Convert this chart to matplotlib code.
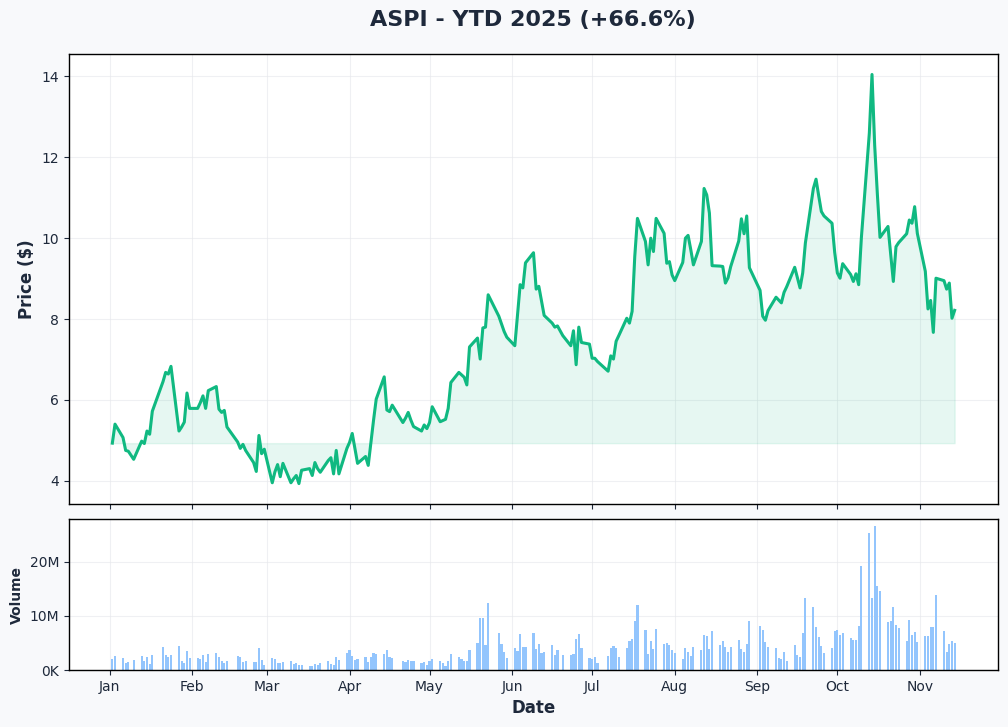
import matplotlib
matplotlib.use("Agg")
import matplotlib.pyplot as plt
import matplotlib.dates as mdates
from matplotlib.ticker import FuncFormatter, MultipleLocator
import numpy as np
import pandas as pd

# trading days (NYSE calendar 2025)
holidays = ["2025-01-01", "2025-01-09", "2025-01-20", "2025-02-17", "2025-04-18",
            "2025-05-26", "2025-06-19", "2025-07-04", "2025-09-01"]
dates = pd.bdate_range("2025-01-02", "2025-11-14", freq="C", holidays=holidays)

# closing price ($), one list per month
price_jan = [4.93, 5.40, 5.07, 4.75, 4.73, 4.53, 4.98, 4.92, 5.23, 5.15, 5.72, 6.45, 6.68, 6.64, 6.83,
             5.23, 5.33, 5.45, 6.17, 5.79]
price_feb = [5.79, 5.93, 6.10, 5.79, 6.23, 6.33, 5.77, 5.69, 5.74, 5.33, 4.96, 4.80, 4.90, 4.75, 4.45,
             4.23, 5.12, 4.67, 4.78]
price_mar = [3.95, 4.22, 4.40, 4.10, 4.43, 3.95, 4.05, 4.13, 3.93, 4.26, 4.30, 4.13, 4.45, 4.30, 4.21,
             4.50, 4.57, 4.17, 4.75, 4.17, 4.80]
price_apr = [4.95, 5.17, 4.80, 4.43, 4.60, 4.38, 4.95, 5.50, 6.02, 6.57, 5.75, 5.71, 5.87, 5.44, 5.55,
             5.69, 5.50, 5.34, 5.23, 5.38, 5.29]
price_may = [5.44, 5.83, 5.46, 5.49, 5.52, 5.79, 6.43, 6.68, 6.62, 6.56, 6.37, 7.31, 7.53, 7.01, 7.78,
             7.80, 8.60, 8.07, 7.88, 7.69, 7.55]
price_jun = [7.34, 8.10, 8.85, 8.77, 9.39, 9.64, 8.74, 8.81, 8.45, 8.09, 7.90, 7.80, 7.83, 7.59, 7.34,
             7.71, 6.87, 7.80, 7.42, 7.38]
price_jul = [7.03, 7.03, 6.95, 6.71, 7.09, 7.01, 7.45, 7.59, 8.02, 7.90, 8.19, 9.55, 10.49, 9.92, 9.34,
             10.00, 9.67, 10.49, 10.12, 9.38, 9.42, 9.09]
price_aug = [8.95, 9.40, 10.00, 10.07, 9.72, 9.34, 9.92, 11.23, 11.07, 10.62, 9.32, 9.31, 9.30, 8.89,
             9.02, 9.30, 9.93, 10.48, 10.11, 10.55, 9.27]
price_sep = [8.71, 8.07, 7.97, 8.21, 8.54, 8.47, 8.40, 8.66, 8.80, 9.28, 9.02, 8.77, 9.14, 9.88, 11.23,
             11.46, 11.05, 10.66, 10.55, 10.37, 9.65]
price_oct = [9.14, 9.01, 9.37, 9.10, 8.93, 9.12, 8.85, 10.00, 12.60, 14.05, 12.30, 11.10, 10.02, 10.29,
             9.60, 8.93, 9.79, 9.89, 10.11, 10.45, 10.37, 10.78, 10.12]
price_nov = [9.18, 8.25, 8.46, 7.67, 9.01, 8.95, 8.74, 8.89, 8.02, 8.215]

# volume (millions of shares)
vol_jan = [2.04, 2.60, 2.23, 1.30, 1.55, 1.86, 2.60, 1.73, 2.41, 1.11, 2.79, 4.27, 2.79, 2.48, 2.79,
           4.46, 1.67, 1.36, 3.53, 2.23]
vol_feb = [2.17, 2.10, 2.79, 1.49, 2.97, 3.16, 2.41, 1.67, 1.36, 1.67, 2.60, 2.41, 1.49, 1.67, 1.49,
           1.49, 4.09, 1.86, 0.93]
vol_mar = [2.23, 2.04, 1.30, 1.30, 1.49, 1.67, 1.11, 1.30, 0.93, 0.93, 0.74, 0.74, 1.11, 0.93, 1.30,
           1.67, 1.11, 0.93, 2.41, 1.86, 3.16]
vol_apr = [3.72, 2.60, 1.86, 2.04, 2.41, 1.49, 2.41, 3.16, 2.97, 2.97, 3.72, 2.41, 2.23, 1.67, 1.49,
           1.86, 1.67, 1.67, 1.30, 1.49, 0.93]
vol_may = [1.67, 2.04, 1.67, 1.30, 0.74, 1.67, 2.97, 2.41, 2.04, 1.67, 1.67, 3.72, 5.02, 9.66, 9.66,
           4.64, 12.45, 6.87, 4.83, 3.34, 2.23]
vol_jun = [4.09, 3.53, 6.69, 4.27, 4.27, 6.87, 3.90, 4.83, 3.16, 3.34, 4.64, 2.79, 3.72, 2.79, 2.79,
           2.97, 5.76, 6.69, 4.09, 2.23]
vol_jul = [2.04, 2.41, 1.30, 2.60, 4.09, 4.46, 4.09, 2.41, 4.09, 5.39, 5.76, 9.10, 12.07, 7.43, 2.97,
           5.39, 3.90, 7.62, 4.83, 5.02, 4.64, 3.72]
vol_aug = [3.16, 2.04, 4.09, 3.34, 2.60, 4.27, 3.72, 6.50, 6.32, 3.90, 7.24, 4.64, 5.39, 4.27, 3.34,
           4.27, 5.57, 3.90, 3.34, 4.83, 9.10]
vol_sep = [8.17, 7.43, 5.20, 4.27, 4.09, 2.23, 2.04, 3.34, 1.67, 4.64, 2.79, 2.41, 6.87, 13.37, 11.70,
           7.99, 6.13, 4.46, 3.16, 4.09, 7.24]
vol_oct = [7.43, 6.50, 6.87, 5.94, 5.57, 5.57, 8.17, 19.30, 25.26, 13.37, 26.56, 15.60, 14.67, 8.92,
           9.10, 11.70, 8.36, 7.80, 5.39, 9.29, 6.50, 7.06, 5.20]
vol_nov = [6.32, 6.32, 7.99, 7.99, 13.93, 7.24, 3.34, 4.83, 5.39, 5.02]

prices = np.array(price_jan + price_feb + price_mar + price_apr + price_may + price_jun
                  + price_jul + price_aug + price_sep + price_oct + price_nov)
volume = np.array(vol_jan + vol_feb + vol_mar + vol_apr + vol_may + vol_jun
                  + vol_jul + vol_aug + vol_sep + vol_oct + vol_nov) * 1e6

text_color = "#1e293b"
green = "#10b981"

fig = plt.figure(figsize=(10.08, 7.27), dpi=100, facecolor="#f8f9fb")
ax = fig.add_axes([0.0685, 0.3067, 0.9215, 0.619])
ax_vol = fig.add_axes([0.0685, 0.0784, 0.9215, 0.2077], sharex=ax)

ax.plot(dates, prices, color=green, linewidth=2.2)
ax.fill_between(dates, prices, prices[0], color=green, alpha=0.1)
ax.set_ylabel("Price ($)", fontsize=12, fontweight="bold", color=text_color)
ax.yaxis.set_major_locator(MultipleLocator(2))
ax.grid(True, color="#e5e7eb", alpha=0.6, linewidth=0.8)
ax.tick_params(labelbottom=False, colors=text_color, labelsize=10)

ax_vol.bar(dates, volume, width=0.8, color="#93c5fd", linewidth=0)
ax_vol.set_ylabel("Volume", fontsize=10, fontweight="bold", color=text_color)
ax_vol.set_xlabel("Date", fontsize=12, fontweight="bold", color=text_color)
ax_vol.yaxis.set_major_locator(MultipleLocator(10e6))
ax_vol.yaxis.set_major_formatter(FuncFormatter(
    lambda v, pos: f"{v / 1e6:.0f}M" if v >= 1e6 else f"{v / 1e3:.0f}K"))
ax_vol.grid(True, color="#e5e7eb", alpha=0.6, linewidth=0.8)
ax_vol.tick_params(colors=text_color, labelsize=10)
ax_vol.xaxis.set_major_locator(mdates.MonthLocator())
ax_vol.xaxis.set_major_formatter(mdates.DateFormatter("%b"))

for a in (ax, ax_vol):
    a.set_axisbelow(True)
    for s in a.spines.values():
        s.set_color("black")
        s.set_linewidth(1.0)

change = (prices[-1] / prices[0] - 1) * 100
fig.text(0.529, 0.973, f"ASPI - YTD 2025 ({change:+.1f}%)", ha="center", va="center",
         fontsize=16, fontweight="bold", color=text_color)

fig.savefig("out.png", dpi=100, facecolor=fig.get_facecolor())
